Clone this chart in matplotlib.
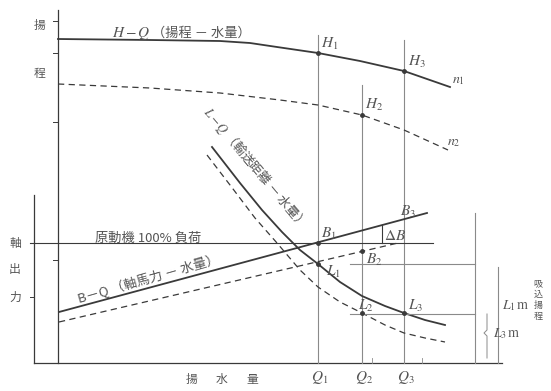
import matplotlib
matplotlib.use("Agg")
import matplotlib.pyplot as plt

plt.rcParams['font.family'] = ['Noto Sans CJK JP', 'DejaVu Sans']
plt.rcParams['mathtext.fontset'] = 'stix'

# Curves on a drawing grid: x = discharge position, y = height position (downwards)
hq_x = [58, 150, 220, 250, 277, 318, 360, 404, 450]
hq_y = [39, 40, 41, 43, 47, 53, 61, 71, 87]

hq2_x = [58, 150, 220, 280, 318, 362, 404, 448]
hq2_y = [84, 88, 93, 100, 105, 115, 130, 150]

lq_x = [212, 240, 262, 282, 300, 318, 340, 362, 385, 404, 425, 445]
lq_y = [147, 183, 210, 232, 250, 264, 282, 296, 306, 313, 320, 325]

lq2_x = [207, 230, 255, 277, 300, 318, 340, 362, 385, 404, 425, 445]
lq2_y = [155, 185, 218, 243, 270, 287, 302, 313, 325, 333, 338, 342]

bq_x = [59, 427]
bq_y = [312, 213]

bq2_x = [59, 398]
bq2_y = [322, 243]

load_y = 243          # prime mover 100 % load level
q_pos = [318, 362, 404]
q_top = [35, 85, 40]
q_labels = [r'$Q_1$', r'$Q_2$', r'$Q_3$']

points = {
    r'$H_1$': (318, 53), r'$H_3$': (404, 71), r'$H_2$': (362, 115),
    r'$B_1$': (318, 243), r'$B_2$': (362, 251),
    r'$L_1$': (318, 264), r'$L_2$': (362, 313), r'$L_3$': (404, 313),
}
label_pos = {
    r'$H_1$': (321, 44), r'$H_3$': (408, 62), r'$H_2$': (365, 105),
    r'$B_1$': (321, 233), r'$B_2$': (366, 260),
    r'$L_1$': (326, 271), r'$L_2$': (358, 306), r'$L_3$': (408, 306),
}

ink = '#3a3a3a'
thin = '#8a8a8a'
txt = '#555555'

fig = plt.figure(figsize=(5.51, 3.91), dpi=100)
ax = fig.add_axes([0, 0, 1, 1])
ax.set_xlim(0, 551)
ax.set_ylim(391, 0)
ax.axis('off')

# axes frame
ax.plot([58, 58], [10, 363], color=ink, lw=0.9)
ax.plot([34, 34], [195, 363], color=ink, lw=0.9)
ax.plot([34, 502], [363, 363], color=ink, lw=0.9)
for ty in [21, 53, 122, 260]:
    ax.plot([53, 58], [ty, ty], color=ink, lw=0.7)
ax.plot([30, 34], [297, 297], color=ink, lw=0.7)
for tx in [372, 422]:
    ax.plot([tx, tx], [358, 363], color=thin, lw=0.6)

# discharge verticals
for x, top, lab in zip(q_pos, q_top, q_labels):
    ax.plot([x, x], [top, 363], color=thin, lw=0.8)
    ax.text(x + 2, 377, lab, fontsize=11, color=txt, ha='center', va='center')

# 100 % load line
ax.plot([30, 433], [load_y, load_y], color=ink, lw=0.8)

# head curves
ax.plot(hq_x, hq_y, color=ink, lw=1.3)
ax.plot(hq2_x, hq2_y, color=ink, lw=0.9, dashes=(5, 3.5))
# L-Q curves
ax.plot(lq_x, lq_y, color=ink, lw=1.3)
ax.plot(lq2_x, lq2_y, color=ink, lw=0.9, dashes=(5, 3.5))
# B-Q lines
ax.plot(bq_x, bq_y, color=ink, lw=1.3)
ax.plot(bq2_x, bq2_y, color=ink, lw=0.9, dashes=(5, 3.5))

# Delta B marker
ax.plot([382, 382], [225, 243], color=ink, lw=0.8)

# level lines to suction-lift scale
ax.plot([350, 475], [264, 264], color=thin, lw=0.8)
ax.plot([350, 475], [314, 314], color=thin, lw=0.8)
ax.plot([475, 475], [213, 363], color=thin, lw=0.8)
ax.plot([498, 498], [267, 363], color=thin, lw=0.8)
ax.plot([487, 487, 484, 487, 487], [314, 330, 333, 336, 358], color=thin, lw=0.7)

# marked points
for name, (px, py) in points.items():
    ax.plot(px, py, 'o', ms=2.5, color=ink)
    lx, ly = label_pos[name]
    ax.text(lx, ly, name, fontsize=11, color=txt, ha='left', va='center')

ax.text(400, 212, r'$B_3$', fontsize=11, color=txt, ha='left', va='center')
ax.text(384, 235, r'$\Delta B$', fontsize=11, color=txt, ha='left', va='center')
ax.text(452, 80, r'$n_1$', fontsize=10, color=txt, ha='left', va='center')
ax.text(447, 142, r'$n_2$', fontsize=10, color=txt, ha='left', va='center')

# curve titles
ax.text(112, 33, r'$H-Q$', fontsize=11, color=txt, ha='left', va='center')
ax.text(152, 33, '（揚程 － 水量）', fontsize=9.5, color=txt, ha='left', va='center')
ax.text(95, 238, '原動機 100% 負荷', fontsize=9.5, color=txt, ha='left', va='center')
ax.text(80, 306, 'B－Q （軸馬力 － 水量）', fontsize=9.5, color=txt, ha='left', va='bottom',
        rotation=16, rotation_mode='anchor')
ax.text(199, 115, r'$L-Q$ （輸送距離 － 水量）', fontsize=9.2, color=txt, ha='left', va='bottom',
        rotation=-50, rotation_mode='anchor')

# axis titles
ax.text(40, 25, '揚', fontsize=8.5, color=txt, ha='center', va='center')
ax.text(40, 74, '程', fontsize=8.5, color=txt, ha='center', va='center')
ax.text(15, 243, '軸', fontsize=8.5, color=txt, ha='center', va='center')
ax.text(15, 270, '出', fontsize=8.5, color=txt, ha='center', va='center')
ax.text(15, 297, '力', fontsize=8.5, color=txt, ha='center', va='center')
ax.text(192, 379, '揚', fontsize=8.5, color=txt, ha='center', va='center')
ax.text(222, 379, '水', fontsize=8.5, color=txt, ha='center', va='center')
ax.text(252, 379, '量', fontsize=8.5, color=txt, ha='center', va='center')

# suction-lift scale labels
ax.text(502, 306, r'$L_1\,\mathrm{m}$', fontsize=10, color=txt, ha='left', va='center')
ax.text(493, 334, r'$L_3\,\mathrm{m}$', fontsize=10, color=txt, ha='left', va='center')
ax.text(538, 300, '\n'.join('吸込揚程'), fontsize=6.5, color=txt, ha='center', va='center',
        linespacing=1.25)

fig.savefig('out.png', dpi=100, facecolor='white')
